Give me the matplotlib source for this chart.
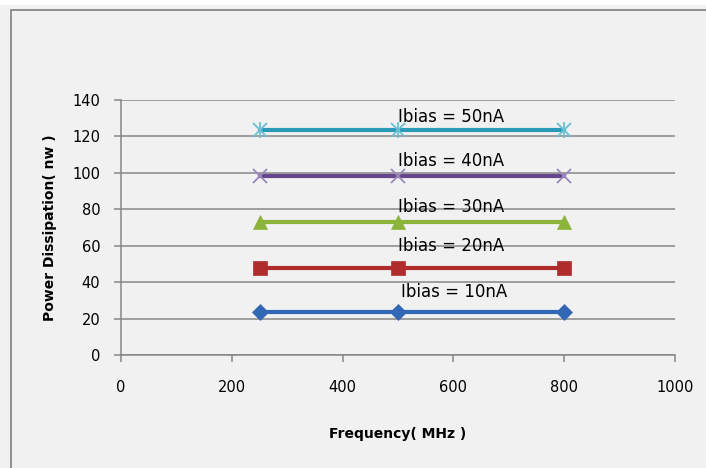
import matplotlib.pyplot as plt
from matplotlib.patches import Rectangle

freq = [250, 500, 800]
currents = ['10nA', '20nA', '30nA', '40nA', '50nA']
power = [
    [23.5, 23.5, 23.5],
    [47.5, 47.5, 47.5],
    [73, 73, 73],
    [98.5, 98.5, 98.5],
    [123.5, 123.5, 123.5],
]
label_x = [505, 500, 500, 500, 500]
label_y = [34.5, 60, 81, 106.5, 130.5]

line_colors = ['#3267b5', '#b02c2c', '#8cb43a', '#66478f', '#2c9bb8']
marker_colors = ['#3267b5', '#b02c2c', '#8cb43a', '#9c88bd', '#6cc0d6']
markers = ['D', 's', '^', 'x', 'x']
msizes = [8, 10, 10, 10, 10]

plt.rcParams['font.family'] = ['DejaVu Sans']

fig = plt.figure(figsize=(7.06, 4.68), dpi=100)
fig.patch.set_facecolor('#f1f1f1')
# white strip on top + chart area border
fig.patches.append(Rectangle((0, 463 / 468), 1, 5 / 468, transform=fig.transFigure,
                             facecolor='white', edgecolor='none', zorder=0))
fig.patches.append(Rectangle((11 / 706, -0.05), 1, 1 - 10 / 468 + 0.05, transform=fig.transFigure,
                             facecolor='none', edgecolor='#7f7f7f', linewidth=1.2, zorder=1))

ax = fig.add_axes([121 / 706, 1 - 355 / 468, 554 / 706, 255 / 468])
ax.set_facecolor('#f1f1f1')

for i in range(5):
    ax.plot(freq, power[i], color=line_colors[i], linewidth=3, zorder=3)
    ax.plot(freq, power[i], linestyle='none', marker=markers[i], markersize=msizes[i],
            color=marker_colors[i], markeredgewidth=1.3 if markers[i] == 'x' else 0.5,
            zorder=4)
    if i == 4:
        ax.plot(freq, power[i], linestyle='none', marker='|', markersize=12,
                color=marker_colors[i], markeredgewidth=1.3, zorder=4)
    ax.text(label_x[i], label_y[i], 'Ibias = ' + currents[i], fontsize=12,
            ha='left', va='center', zorder=5)

ax.set_xlim(0, 1000)
ax.set_ylim(0, 140)
ax.set_xticks(range(0, 1001, 200))
ax.set_yticks(range(0, 141, 20))
ax.grid(axis='y', color='#868686', linewidth=1.1, zorder=1)
ax.set_axisbelow(True)

for s in ['top', 'right']:
    ax.spines[s].set_visible(False)
for s in ['left', 'bottom']:
    ax.spines[s].set_color('#868686')
    ax.spines[s].set_linewidth(1.1)

ax.tick_params(axis='x', direction='out', length=5, width=1.1, color='#868686',
               pad=13, labelsize=10.5)
ax.tick_params(axis='y', direction='out', length=5, width=1.1, color='#868686',
               pad=10, labelsize=10.5)

ax.set_xlabel('Frequency( MHz )', fontsize=10, fontweight='bold', labelpad=23)
ax.set_ylabel('Power Dissipation( nw )', fontsize=10, fontweight='bold', labelpad=11)

fig.savefig('out.png', dpi=100, facecolor=fig.get_facecolor())
